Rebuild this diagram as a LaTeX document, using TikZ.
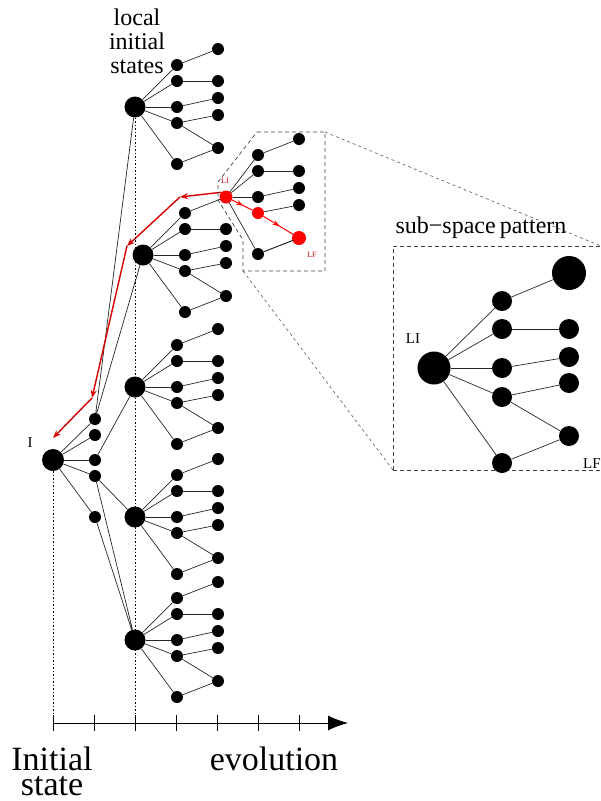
\documentclass[tikz,border=0pt]{standalone}
\usepackage{fontspec}
\setmainfont{Liberation Serif}
\usetikzlibrary{arrows.meta,decorations.markings}

\begin{document}
\begin{tikzpicture}[x=1pt,y=-1pt,
    dot/.style={circle,fill=black,inner sep=0pt,minimum size=12pt},
    bigdot/.style={circle,fill=black,inner sep=0pt,minimum size=21pt},
    reddot/.style={dot,fill=red},
    link/.style={line width=0.7pt,black!85},
    back/.style={red!85!black,line width=1.4pt,-{Stealth[length=8pt,width=6pt]}},
    fwd/.style={red,line width=1pt,postaction={decorate},
      decoration={markings,mark=at position 0.55 with {\arrow{Stealth[length=7pt,width=5pt]}}}},
    zoombox/.style={black!75,line width=0.7pt,dash pattern=on 4pt off 3pt},
    zoomline/.style={black!65,line width=0.6pt,dash pattern=on 3pt off 3pt},
    txt/.style={inner sep=0pt}]
  \useasboundingbox (0,0) rectangle (601,801);
  \clip (0,0) rectangle (601,801);

  % initial state and first step
  \node[bigdot,minimum size=22pt] (init) at (53,460) {};
  \foreach \k/\y in {1/419,2/435,3/460,4/476,5/517}
    \node[dot] (a\k) at (95,\y) {};
  \foreach \k in {1,...,5}
    \draw[link] (init) -- (a\k);

  % local initial states, each with its sub-tree
  \foreach \k/\x/\y in {1/135/107,2/143/255,3/135/387,4/135/517,5/135/640} {
    \node[bigdot] (lis\k) at (\x,\y) {};
    \foreach \j/\dy in {1/-42,2/-26,3/0,4/16,5/57}
      \node[dot] (lis\k-p\j) at (\x+42,\y+\dy) {};
    \foreach \j/\dy in {1/-58,2/-26,3/-9,4/8,5/41}
      \node[dot] (lis\k-q\j) at (\x+83,\y+\dy) {};
    \foreach \j in {1,...,5}
      \draw[link] (lis\k) -- (lis\k-p\j);
    \foreach \j in {1,...,4}
      \draw[link] (lis\k-p\j) -- (lis\k-q\j);
    \draw[link] (lis\k-p4) -- (lis\k-q5) (lis\k-p5) -- (lis\k-q5);
  }
  \draw[link] (a1) -- (lis1) (a1) -- (lis2) (a3) -- (lis3)
              (a4) -- (lis4) (a4) -- (lis5) (a5) -- (lis5);

  % the sub-space that is zoomed
  \node[reddot,minimum size=13pt] (li) at (lis2-q1) {};
  \foreach \j/\dy/\s in {1/-42/dot,2/-26/dot,3/0/dot,4/16/reddot,5/57/dot}
    \node[\s] (li-p\j) at (258,197+\dy) {};
  \foreach \j/\dy/\s in {1/-58/dot,2/-26/dot,3/-9/dot,4/8/dot,5/41/reddot}
    \node[\s] (li-q\j) at (299,197+\dy) {};
  \node[reddot,minimum size=14pt] (lf) at (li-q5) {};
  \foreach \j in {1,2,3,5}
    \draw[link] (li) -- (li-p\j);
  \foreach \j in {1,...,5}
    \draw[link] (li-p\j) -- (li-q\j);
  \draw[link] (li-p5) -- (lf);
  \draw[fwd] (li) -- (li-p4);
  \draw[fwd] (li-p4) -- (lf);
  \node[txt,text=red!80!black,font=\fontsize{8}{8}\selectfont] (li-lbl) at (225,181) {LI};
  \node[txt,text=red!80!black,font=\fontsize{8}{8}\selectfont] (lf-lbl) at (312,255) {LF};

  % way back to the initial state
  \coordinate (r1) at (180,197);
  \coordinate (r2) at (127,246);
  \coordinate (r3) at (92,398);
  \coordinate (r4) at (53,438);
  \draw[back] (li.north west) -- (r1);
  \draw[back] (r1) -- (r2);
  \draw[back] (r2) -- (r3);
  \draw[back] (r3) -- (r4);

  % zoom box and pattern box
  \coordinate (zb-ne) at (325,132);
  \coordinate (zb-sw) at (243,271);
  \draw[zoombox] (257,132) -- (zb-ne) -- (325,271) -- (zb-sw) -- (243,240)
                 -- (218,200) -- (218,182) -- cycle;
  \coordinate (pb-ne) at (601,246);
  \coordinate (pb-sw) at (393,470);
  \draw[zoombox] (pb-sw) rectangle (612,246);
  \draw[zoomline] (zb-ne) -- (pb-ne);
  \draw[zoomline] (zb-sw) -- (pb-sw);

  % sub-space pattern
  \node[bigdot,minimum size=33pt] (pat) at (434,368) {};
  \foreach \j/\y in {1/301,2/329,3/368,4/397,5/463}
    \node[dot,minimum size=20pt] (pat-p\j) at (502,\y) {};
  \foreach \j/\y/\s in {1/273/34pt,2/329/20pt,3/357/20pt,4/383/20pt,5/436/20pt}
    \node[dot,minimum size=\s] (pat-q\j) at (569,\y) {};
  \foreach \j in {1,...,5}
    \draw[link] (pat) -- (pat-p\j);
  \foreach \j in {1,...,4}
    \draw[link] (pat-p\j) -- (pat-q\j);
  \draw[link] (pat-p4) -- (pat-q5) (pat-p5) -- (pat-q5);
  \node[txt,font=\fontsize{15}{15}\selectfont] (pat-li) at (413,339) {LI};
  \node[txt,anchor=west,font=\fontsize{15}{15}\selectfont] (pat-lf) at (583,464) {LF};
  \node[txt,anchor=base,font=\fontsize{24}{24}\selectfont] (pat-title) at (481,233) {sub−space\,pattern};

  % time axis
  \coordinate (ax0) at (53,723);
  \coordinate (ax1) at (348,723);
  \draw[line width=0.9pt,-{Latex[length=20pt,width=15pt]}] (ax0) -- (ax1);
  \foreach \i in {0,...,6} {
    \coordinate (t\i) at (53+41*\i,723);
    \draw[line width=0.9pt] (53+41*\i,715) -- (53+41*\i,731);
  }
  \draw[line width=0.8pt,dash pattern=on 1.5pt off 2pt] (init) -- (t0);
  \draw[line width=0.8pt,dash pattern=on 1.5pt off 2pt] (lis1) -- (t2);

  % labels
  \node[txt,font=\fontsize{15}{15}\selectfont] (init-lbl) at (30,443) {I};
  \node[txt,anchor=north,align=center,font=\fontsize{24}{24}\selectfont] (lis-lbl) at (137,9)
    {local\\initial\\states};
  \node[txt,anchor=base,font=\fontsize{34}{34}\selectfont] (init-lbl1) at (52,770) {Initial};
  \node[txt,anchor=base,font=\fontsize{34}{34}\selectfont] (init-lbl2) at (52,795) {state};
  \node[txt,anchor=base,font=\fontsize{34}{34}\selectfont] (evol) at (274,770) {evolution};
\end{tikzpicture}
\end{document}
